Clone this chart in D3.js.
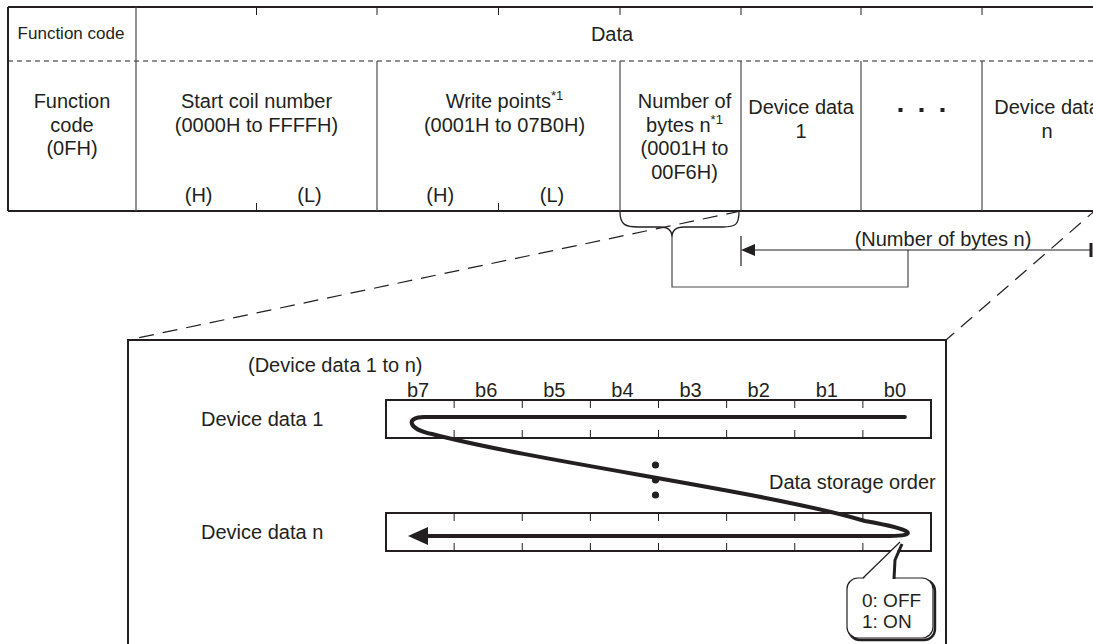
<!DOCTYPE html>
<html>
<head>
<meta charset="utf-8">
<script src="https://cdn.jsdelivr.net/npm/d3@7"></script>
<style>
  body { margin: 0; background: #fff; }
  svg { display: block; }
  text { font-family: "Liberation Sans", Arial, sans-serif; fill: #231f20; }
</style>
</head>
<body>
<svg></svg>
<script>
// ---- data ----
const headerLabels = ['Function code', 'Data'];
const fieldLabels = [
  ['Function', 'code', '(0FH)'],
  ['Start coil number', '(0000H to FFFFH)'],
  ['Write points^*1', '(0001H to 07B0H)'],
  ['Number of', 'bytes n^*1', '(0001H to', '00F6H)'],
  ['Device data', '1'],
  ['...'],
  ['Device data', 'n']
];
const byteLabels = ['(H)', '(L)'];
const splitFields = [1, 2];            // fields split into high / low bytes
const bitLabels = ['b7', 'b6', 'b5', 'b4', 'b3', 'b2', 'b1', 'b0'];
const rowLabels = ['Device data 1', 'Device data n'];
const noteLabels = ['(Number of bytes n)', '(Device data 1 to n)', 'Data storage order'];
const calloutLabels = ['0: OFF', '1: ON'];

// ---- layout ----
const width = 1093, height = 644;
const ink = '#231f20';
const fs = '20px';
const colWidths = [128, 241, 243, 121, 120, 121, 130];
const colEdges = [8];
colWidths.forEach(w => colEdges.push(colEdges[colEdges.length - 1] + w));
const firstBaseline = [108, 108, 108, 108, 114, 110, 114];
const lineGap = 23.5;
const tTop = 7, tDash = 61, tBot = 211;

let svg = d3.select('svg')
              .attr('width', width)
              .attr('height', height);

let lineGp = svg.append('g')
                .attr('stroke', ink)
                .attr('fill', 'none');

// ---- frame of the message table ----
lineGp.append('line')
  .attr('x1', colEdges[0]).attr('x2', width + 20)
  .attr('y1', tTop).attr('y2', tTop)
  .attr('stroke-width', 2);
lineGp.append('line')
  .attr('x1', colEdges[0]).attr('x2', width + 20)
  .attr('y1', tBot).attr('y2', tBot)
  .attr('stroke-width', 2);
lineGp.append('line')
  .attr('x1', colEdges[0]).attr('x2', width + 20)
  .attr('y1', tDash).attr('y2', tDash)
  .attr('stroke-width', 1)
  .attr('stroke-dasharray', '5,4');

// column separators
lineGp.selectAll('line.col')
  .data(colEdges.slice(0, -1))
  .enter()
  .append('line')
    .classed('col', true)
    .attr('x1', d => d).attr('x2', d => d)
    .attr('y1', (d, i) => i < 2 ? tTop : tDash)
    .attr('y2', tBot)
    .attr('stroke-width', (d, i) => i === 0 ? 2 : 1.2)
    .attr('stroke', (d, i) => i === 0 ? ink : '#4a4a4a');

// little ticks on the top line of the data header
lineGp.selectAll('line.toptick')
  .data(colEdges.slice(2, -1).concat(splitFields.map(i => (colEdges[i] + colEdges[i + 1]) / 2)))
  .enter()
  .append('line')
    .attr('x1', d => d).attr('x2', d => d)
    .attr('y1', tTop).attr('y2', tTop + 8)
    .attr('stroke-width', 1);

// ticks between high and low bytes on the bottom line
lineGp.selectAll('line.bottick')
  .data(splitFields.map(i => (colEdges[i] + colEdges[i + 1]) / 2))
  .enter()
  .append('line')
    .attr('x1', d => d).attr('x2', d => d)
    .attr('y1', tBot - 8).attr('y2', tBot)
    .attr('stroke-width', 1);

// header texts
svg.append('text')
  .attr('x', (colEdges[0] + colEdges[1]) / 2 - 1).attr('y', 39)
  .attr('text-anchor', 'middle')
  .style('font-size', '17px')
  .text(headerLabels[0]);
svg.append('text')
  .attr('x', 612).attr('y', 41)
  .attr('text-anchor', 'middle')
  .style('font-size', fs)
  .text(headerLabels[1]);

// field texts
let fieldGp = svg.append('g').style('font-size', fs);
fieldLabels.forEach((lines, ci) => {
  let cx = (colEdges[ci] + colEdges[ci + 1]) / 2;
  if (lines[0] === '...') {
    fieldGp.selectAll(null)
      .data([-1, 0, 1])
      .enter()
      .append('rect')
        .attr('x', d => cx + d * 21 - 2)
        .attr('y', firstBaseline[ci] - 2)
        .attr('width', 4).attr('height', 4)
        .attr('fill', ink);
    return;
  }
  lines.forEach((ln, li) => {
    let parts = ln.split('^');
    let t = fieldGp.append('text')
      .attr('x', cx + (ci === 2 ? 6 : ci === 3 ? 4 : 0))
      .attr('y', firstBaseline[ci] + li * lineGap)
      .attr('text-anchor', 'middle');
    t.append('tspan').text(parts[0]);
    if (parts[1]) {
      t.append('tspan')
        .attr('dy', -8)
        .style('font-size', '13px')
        .text(parts[1]);
    }
  });
});

// (H) (L)
splitFields.forEach(ci => {
  let x = d3.scaleLinear().domain([0, 1]).range([colEdges[ci], colEdges[ci + 1]]);
  fieldGp.selectAll(null)
    .data(byteLabels)
    .enter()
    .append('text')
      .attr('x', (d, i) => x(i === 0 ? 0.26 : 0.72))
      .attr('y', 202)
      .attr('text-anchor', 'middle')
      .text(d => d);
});

// ---- brace under the byte count and the length arrow ----
let nb0 = colEdges[3], nb1 = colEdges[4];
let braceTip = [nb0 + 52, 237];
lineGp.append('path')
  .attr('stroke-width', 1.3)
  .attr('d', `M${nb0},${tBot + 1} C${nb0},${tBot + 14} ${nb0 + 6},${tBot + 16} ${nb0 + 18},${tBot + 16}
              L${braceTip[0] - 12},${tBot + 16} C${braceTip[0] - 4},${tBot + 16} ${braceTip[0]},${tBot + 20} ${braceTip[0]},${braceTip[1]}
              C${braceTip[0]},${tBot + 20} ${braceTip[0] + 4},${tBot + 16} ${braceTip[0] + 12},${tBot + 16}
              L${nb1 - 18},${tBot + 16} C${nb1 - 6},${tBot + 16} ${nb1 - 2},${tBot + 14} ${nb1 - 2},${tBot + 1}`);

let arrowY = 250, loopY = 287, loopX = 908;
lineGp.append('path')
  .attr('stroke-width', 1.2)
  .attr('stroke', '#4a4a4a')
  .attr('d', `M${braceTip[0]},${braceTip[1]} V${loopY} H${loopX} V${arrowY}`);
lineGp.append('line')
  .attr('x1', nb1 + 10).attr('x2', 1090)
  .attr('y1', arrowY).attr('y2', arrowY)
  .attr('stroke-width', 1.2);
lineGp.append('line')
  .attr('x1', nb1).attr('x2', nb1)
  .attr('y1', arrowY - 14).attr('y2', arrowY + 16)
  .attr('stroke-width', 1.2);
lineGp.append('line')
  .attr('x1', 1091).attr('x2', 1091)
  .attr('y1', arrowY - 7).attr('y2', arrowY + 7)
  .attr('stroke-width', 3);
svg.append('path')
  .attr('fill', ink)
  .attr('d', `M${nb1},${arrowY} L${nb1 + 14},${arrowY - 6} L${nb1 + 14},${arrowY + 6} Z`);
svg.append('text')
  .attr('x', 943).attr('y', 246)
  .attr('text-anchor', 'middle')
  .style('font-size', fs)
  .text(noteLabels[0]);

// ---- zoom box ----
let box = { x0: 128, x1: 946, y0: 340, y1: 700 };
lineGp.append('line')
  .attr('x1', nb1).attr('y1', tBot)
  .attr('x2', box.x0).attr('y2', box.y0)
  .attr('stroke-width', 1.2)
  .attr('stroke-dasharray', '15,9');
lineGp.append('line')
  .attr('x1', 1099).attr('y1', tBot - 4)
  .attr('x2', box.x1).attr('y2', box.y0)
  .attr('stroke-width', 1.2)
  .attr('stroke-dasharray', '15,9');
lineGp.append('rect')
  .attr('x', box.x0).attr('y', box.y0)
  .attr('width', box.x1 - box.x0).attr('height', box.y1 - box.y0)
  .attr('fill', 'white')
  .attr('stroke-width', 2);

// bit registers
let bitX = d3.scaleBand().domain(bitLabels).range([386, 931]);
let rowY = d3.scaleOrdinal().domain(rowLabels).range([400, 513]);
let regH = 38;

svg.append('text')
  .attr('x', 248).attr('y', 372)
  .style('font-size', fs)
  .text(noteLabels[1]);

svg.selectAll('text.bit')
  .data(bitLabels)
  .enter()
  .append('text')
    .attr('x', d => bitX(d) + bitX.bandwidth() / 2 - 2)
    .attr('y', 397)
    .attr('text-anchor', 'middle')
    .style('font-size', fs)
    .text(d => d);

rowLabels.forEach(r => {
  let y = rowY(r);
  svg.append('text')
    .attr('x', 201).attr('y', y + regH / 2 + 7)
    .style('font-size', fs)
    .text(r);
  lineGp.append('rect')
    .attr('x', bitX.range()[0]).attr('y', y)
    .attr('width', bitX.range()[1] - bitX.range()[0]).attr('height', regH)
    .attr('stroke-width', 2);
  lineGp.selectAll(null)
    .data(bitLabels.slice(1))
    .enter()
    .append('path')
      .attr('stroke-width', 1)
      .attr('d', d => `M${bitX(d)},${y} v8 M${bitX(d)},${y + regH} v-8`);
});

// data storage order stroke
let yA = rowY(rowLabels[0]) + 17, yB = rowY(rowLabels[1]) + 23;
let xR = bitX('b0') + 42, xL = bitX('b7') + 38;
let mid = bitX('b3');
svg.append('path')
  .attr('fill', 'none')
  .attr('stroke', ink)
  .attr('stroke-width', 4)
  .attr('stroke-linecap', 'round')
  .attr('d', `M${xR},${yA} L${xL},${yA}
              C${xL - 18},${yA} ${xL - 17},${yA + 12} ${xL + 8},${yA + 17}
              C${mid - 120},${yA + 45} ${mid + 110},${yA + 75} ${xR - 40},${yB - 15}
              C${xR + 12},${yB - 6} ${xR + 12},${yB} ${xR - 15},${yB}
              L${bitX('b7') + 40},${yB}`);
svg.append('path')
  .attr('fill', ink)
  .attr('d', `M${bitX('b7') + 22},${yB} L${bitX('b7') + 42},${yB - 9} L${bitX('b7') + 42},${yB + 9} Z`);

svg.selectAll('circle.ell')
  .data([-15, 0, 15])
  .enter()
  .append('circle')
    .attr('cx', mid - 3)
    .attr('cy', d => 480 + d)
    .attr('r', 3.6)
    .attr('fill', ink);

svg.append('text')
  .attr('x', 769).attr('y', 489)
  .style('font-size', fs)
  .text(noteLabels[2]);

// callout
let cb = { x: 847, y: 578, w: 86, h: 60 };
svg.append('rect')
  .attr('x', cb.x + 2).attr('y', cb.y + 2)
  .attr('width', cb.w).attr('height', cb.h)
  .attr('rx', 11)
  .attr('fill', 'none')
  .attr('stroke', ink)
  .attr('stroke-width', 2.4);
svg.append('rect')
  .attr('x', cb.x).attr('y', cb.y)
  .attr('width', cb.w).attr('height', cb.h)
  .attr('rx', 11)
  .attr('fill', 'white')
  .attr('stroke', ink)
  .attr('stroke-width', 1.2);
svg.append('path')
  .attr('fill', 'white')
  .attr('stroke', 'none')
  .attr('d', `M${cb.x + 16},${cb.y + 1.5} L${cb.x + 53},${cb.y - 36} L${cb.x + 48},${cb.y - 18} L${cb.x + 47},${cb.y + 1.5} Z`);
svg.append('path')
  .attr('fill', 'none')
  .attr('stroke', ink)
  .attr('stroke-width', 1.2)
  .attr('d', `M${cb.x + 16},${cb.y} L${cb.x + 53},${cb.y - 36}`);
svg.append('path')
  .attr('fill', 'none')
  .attr('stroke', ink)
  .attr('stroke-width', 3)
  .attr('d', `M${cb.x + 47},${cb.y + 1} L${cb.x + 48},${cb.y - 18} L${cb.x + 55},${cb.y - 34}`);
svg.selectAll('text.cl')
  .data(calloutLabels)
  .enter()
  .append('text')
    .attr('x', cb.x + 15)
    .attr('y', (d, i) => cb.y + 29 + i * 21)
    .style('font-size', '19px')
    .text(d => d);
</script>
</body>
</html>
